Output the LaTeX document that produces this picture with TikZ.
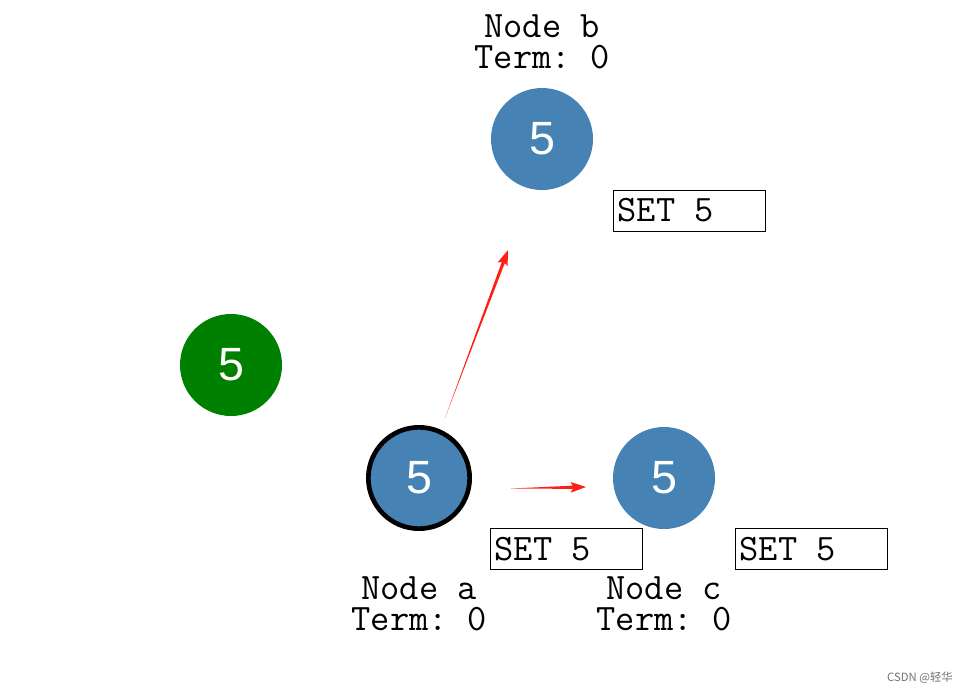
\documentclass[tikz,border=0pt]{standalone}
\usepackage{fontspec}
\setsansfont{Liberation Sans}
\newfontfamily\cjk{Noto Sans CJK SC}
\usetikzlibrary{calc}
\definecolor{nodeblue}{HTML}{4682B4}
\definecolor{nodegreen}{HTML}{008000}
\definecolor{arrowred}{HTML}{FF2015}
\frenchspacing
\tikzset{
  raftnode/.style={circle, fill=nodeblue, minimum size=76.5pt, inner sep=0pt,
    text=white, font=\sffamily\fontsize{35}{35}\selectfont},
  leadernode/.style={raftnode, draw=black, line width=3.5pt, minimum size=76pt},
  clientnode/.style={raftnode, fill=nodegreen},
  nodelabel/.style={align=center, inner sep=0pt, font=\ttfamily\fontsize{28}{23.5}\selectfont},
  msgbox/.style={draw=black, line width=0.75pt, minimum height=30.75pt, minimum width=114pt,
    inner ysep=0pt, inner xsep=3pt, font=\ttfamily\fontsize{28}{23.5}\selectfont},
}
\newcommand{\msgtext}[1]{\makebox[107pt][l]{#1}}
\newcommand{\taperarrow}[2]{%
  \fill[arrowred] (#1) -- ($(#2)!10pt!(#1)!1.2pt!90:(#1)$) -- ($(#2)!11.5pt!(#1)!4pt!90:(#1)$)
    -- (#2) -- ($(#2)!11.5pt!(#1)!4pt!-90:(#1)$) -- ($(#2)!10pt!(#1)!1.2pt!-90:(#1)$) -- cycle;}
\begin{document}
\begin{tikzpicture}[x=0.75pt, y=-0.75pt]
\useasboundingbox (0,0) rectangle (968,693);
% servers
\node[raftnode] (b) at (542,139) {5};
\node[clientnode] (client) at (231,365) {5};
\node[leadernode] (a) at (419,478) {5};
\node[raftnode] (c) at (664,478) {5};
% labels
\node[nodelabel] (lb) at (542,42) {Node b\\Term: 0};
\node[nodelabel] (la) at (419,604) {Node a\\Term: 0};
\node[nodelabel] (lc) at (664,604) {Node c\\Term: 0};
% message boxes
\node[msgbox] (mb) at (689,210.5) {\msgtext{SET 5}};
\node[msgbox] (ma) at (566,549) {\msgtext{SET 5}};
\node[msgbox] (mc) at (811,549) {\msgtext{SET 5}};
% arrows
\coordinate (ab1) at (445,418);
\coordinate (ab2) at (508,250);
\coordinate (ac1) at (511,488.5);
\coordinate (ac2) at (586,487);
\taperarrow{ab1}{ab2}
\taperarrow{ac1}{ac2}
% watermark
\node[anchor=east, inner sep=0pt, text=black!55, font=\cjk\fontsize{8.5}{10}\selectfont] (wm) at (953,678) {CSDN @轻华};
\end{tikzpicture}
\end{document}
